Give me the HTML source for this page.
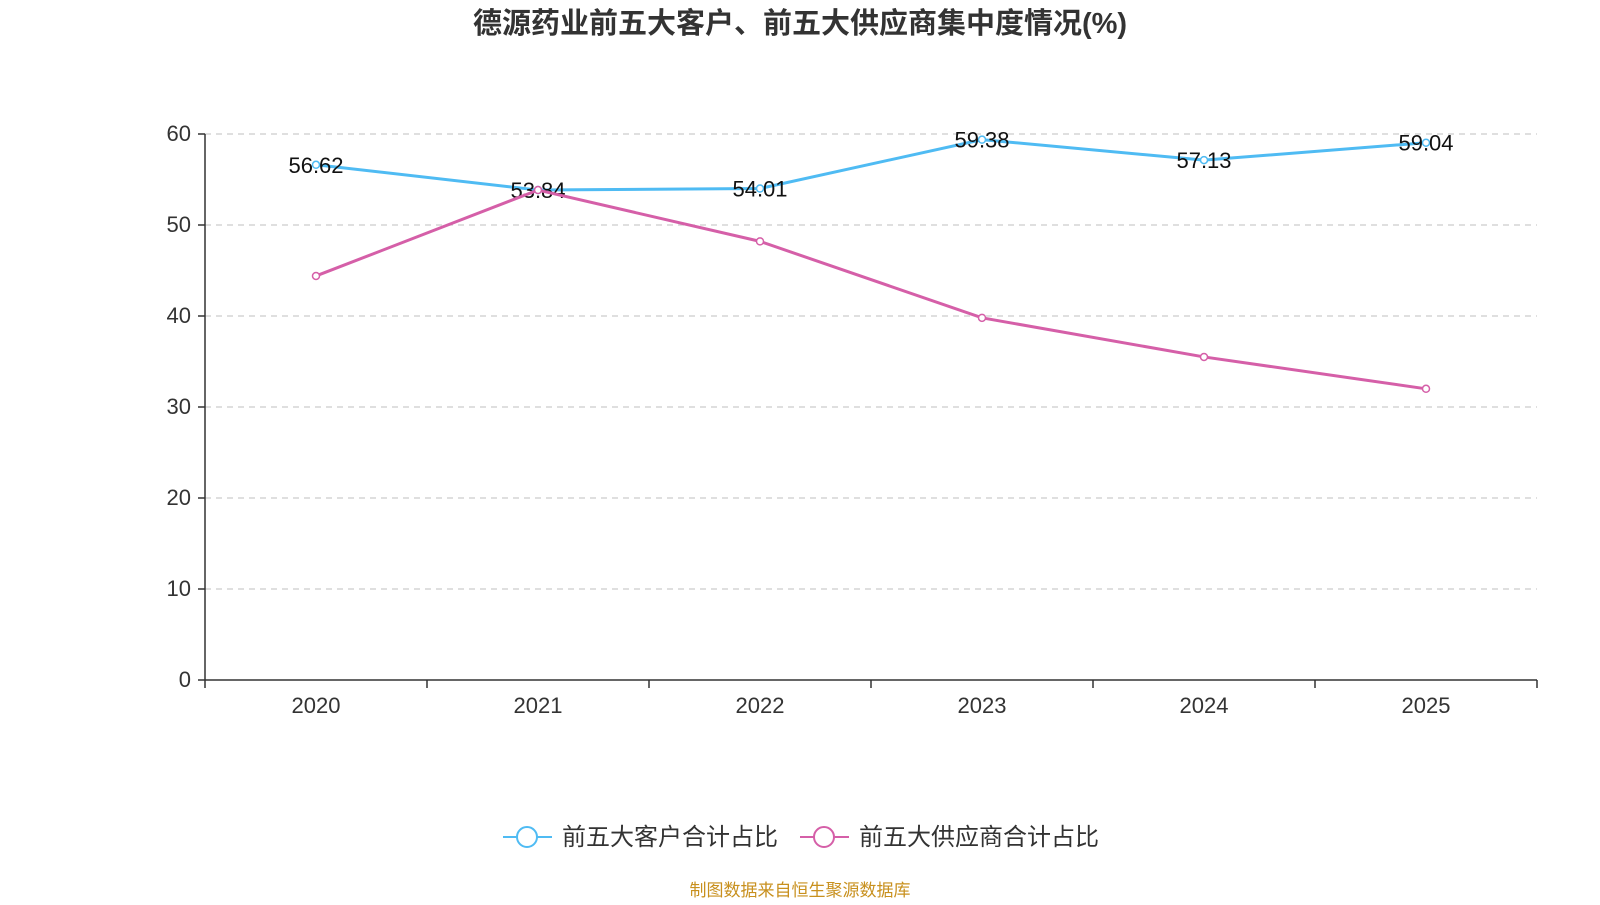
<!DOCTYPE html>
<html><head><meta charset="utf-8">
<style>
body{margin:0;background:#fff;width:1600px;height:900px;overflow:hidden;font-family:"Liberation Sans","Noto Sans CJK SC",sans-serif;}
</style></head>
<body>
<svg id="chart" width="1600" height="900" xmlns="http://www.w3.org/2000/svg" font-family="Liberation Sans, Noto Sans CJK SC, sans-serif">
<text x="800" y="33" text-anchor="middle" font-size="29" font-weight="bold" fill="#333">德源药业前五大客户、前五大供应商集中度情况(%)</text>
<g id="grid"></g><g id="axes"></g><g id="series"></g>
<g>
<line x1="503" y1="837" x2="552" y2="837" stroke="#4fbbf3" stroke-width="2"/>
<circle cx="527" cy="837" r="10" fill="#fff" stroke="#4fbbf3" stroke-width="2"/>
<text x="562" y="845" font-size="24" fill="#333">前五大客户合计占比</text>
<line x1="800" y1="837" x2="849" y2="837" stroke="#d55fa8" stroke-width="2"/>
<circle cx="824" cy="837" r="10" fill="#fff" stroke="#d55fa8" stroke-width="2"/>
<text x="859" y="845" font-size="24" fill="#333">前五大供应商合计占比</text>
</g>
<text x="800" y="896" text-anchor="middle" font-size="17" fill="#c8901e">制图数据来自恒生聚源数据库</text>
</svg>
<script>
const categories=["2020","2021","2022","2023","2024","2025"];
const customers=[56.62,53.84,54.01,59.38,57.13,59.04];
const suppliers=[44.4,53.84,48.2,39.8,35.5,32.0];
const yTicks=[0,10,20,30,40,50,60];
const NS="http://www.w3.org/2000/svg";
const L=205,R=1537,T=134,B=680,max=60;
const bw=(R-L)/categories.length;
const x=i=>L+bw*(i+0.5);
const y=v=>B-(v/max)*(B-T);
function mk(tag,a,parent){const e=document.createElementNS(NS,tag);for(const k in a)e.setAttribute(k,a[k]);document.getElementById(parent).appendChild(e);return e;}
yTicks.forEach(t=>{
 if(t>0){const g=mk('line',{x1:L,x2:R,y1:y(t),y2:y(t),stroke:'#ccc','stroke-dasharray':'6,5','stroke-width':1.3},'grid');
 
 }
 const tk=mk('line',{x1:L-7,x2:L,y1:y(t),y2:y(t),stroke:'#333','stroke-width':1.5},'axes');
 
 
 const tx=mk('text',{x:L-14,y:y(t)+7,'text-anchor':'end','font-size':22,fill:'#333'},'axes');tx.textContent=t;
 
 
});
const ya=mk('line',{x1:L,x2:L,y1:T,y2:B,stroke:'#333','stroke-width':1.5},'axes');


const xa=mk('line',{x1:L,x2:R,y1:B,y2:B,stroke:'#333','stroke-width':1.5},'axes');


for(let i=0;i<=categories.length;i++){const t=mk('line',{x1:L+bw*i,x2:L+bw*i,y1:B,y2:B+8,stroke:'#333','stroke-width':1.5},'axes');
 
 }
categories.forEach((c,i)=>{const t=mk('text',{x:x(i),y:B+33,'text-anchor':'middle','font-size':22,fill:'#333'},'axes');t.textContent=c;
 
 });
function series(vals,color,name,labels){
 const p=mk('polyline',{points:vals.map((v,i)=>x(i)+','+y(v)).join(' '),fill:'none',stroke:color,'stroke-width':3},'series');
 
 
 vals.forEach((v,i)=>{
  const c=mk('circle',{cx:x(i),cy:y(v),r:3.5,fill:'#fff',stroke:color,'stroke-width':1.5},'series');
  
  
  if(labels){const t=mk('text',{x:x(i),y:y(v)+8,'text-anchor':'middle','font-size':22,fill:'#111'},'series');t.textContent=v.toFixed(2);
   
   }
 });
}
series(customers,'#4fbbf3','customers',true);
series(suppliers,'#d55fa8','suppliers',false);
</script>
</body></html>
